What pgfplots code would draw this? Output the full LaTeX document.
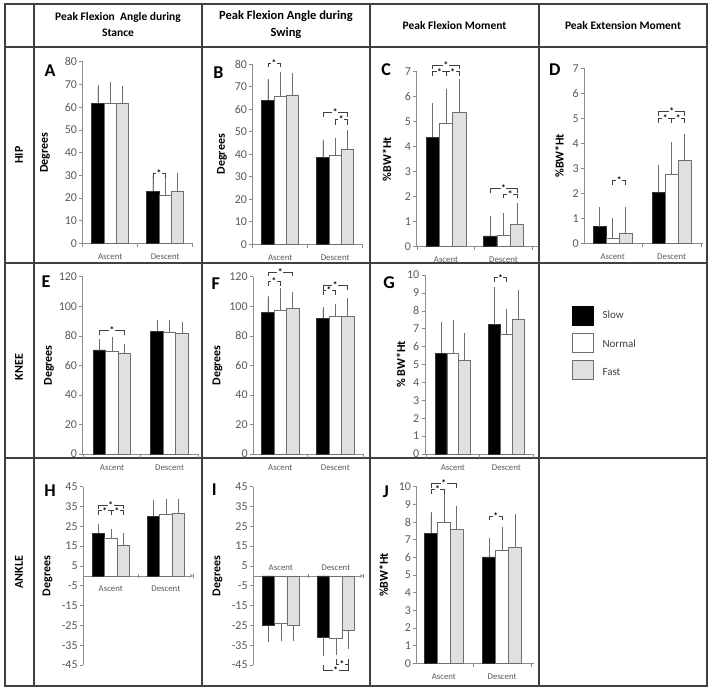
\documentclass[border=0pt]{standalone}
\usepackage{fontspec}
\setmainfont{Carlito}
\usepackage{pgfplots}
\pgfplotsset{compat=1.18}

\definecolor{axisgray}{HTML}{8C8C8C}
\definecolor{tickgray}{HTML}{595959}
\definecolor{bargray}{HTML}{6E6E6E}
\definecolor{fastgray}{HTML}{E0E0E0}
\definecolor{gridline}{HTML}{404040}

\pgfplotsset{
  panel/.style={
    scale only axis, anchor=south west, clip=false,
    axis y line=left, axis x line=bottom,
    axis line style={-, draw=axisgray, line width=0.6pt},
    tick style={draw=axisgray, line width=0.6pt},
    major tick length=3.5pt, tick align=outside,
    ybar=0pt,
    xtick={-0.5,0.5,1.5}, xticklabels={},
    yticklabel style={font=\fontsize{12}{13}\selectfont, text=tickgray, inner sep=2pt},
    /pgf/number format/assume math mode=true,
    every axis y label/.style={rotate=90, anchor=center, font=\bfseries\fontsize{12}{13}\selectfont},
    every axis plot/.append style={line width=0.6pt,
      error bars/y dir=plus, error bars/y explicit,
      error bars/error bar style={draw=bargray, line width=0.6pt},
      error bars/error mark options={draw=bargray, line width=0.6pt, mark size=2.2pt}},
  },
  slow/.style={fill=black, draw=black!80},
  norm/.style={fill=white, draw=bargray},
  fast/.style={fill=fastgray, draw=bargray},
  ylab/.style={ylabel style={at={([xshift=-#1pt]axis description cs:0,0.5)}}},
}
\tikzset{
  brk/.style={draw=gridline, line width=0.5pt},
  star/.style={font=\bfseries\fontsize{9.5}{9.5}\selectfont, fill=white, inner sep=0.5pt, text=black},
  cat/.style={font=\fontsize{8.8}{9}\selectfont, text=tickgray},
}
% significance bracket: x1, x2, y of bar, y of legs
\newcommand\brk[4]{%
  \draw[brk] (axis cs:#1,#4) -- (axis cs:#1,#3) -- (axis cs:#2,#3) -- (axis cs:#2,#4);
  \node[star] at (axis cs:{(#1+#2)/2},#3) {*};}
\newcommand\cats[1]{%
  \node[cat] at ([yshift=#1pt]axis cs:0,0) {Ascent};
  \node[cat] at ([yshift=#1pt]axis cs:1,0) {Descent};}

\begin{document}
\begin{tikzpicture}
\useasboundingbox (0pt,0pt) rectangle (714pt,-691pt);

% table frame
\begin{scope}[gridline, line width=1.3pt]
\draw (5pt,-4pt) rectangle (707pt,-686pt);
\foreach \x in {34,202,370,539} \draw (\x pt,-4pt) -- (\x pt,-686pt);
\foreach \y in {47,263,458} \draw (5pt,-\y pt) -- (707pt,-\y pt);
\end{scope}

% headers
\begin{scope}[font=\bfseries\fontsize{11.5}{16}\selectfont, align=center]
\node at (118pt,-25pt) {Peak Flexion\ \ Angle during\\Stance};
\node[font=\bfseries\fontsize{12.5}{17}\selectfont] at (286pt,-25pt) {Peak Flexion Angle during\\Swing};
\node at (454.5pt,-26pt) {Peak Flexion Moment};
\node at (623pt,-26pt) {Peak Extension Moment};
\end{scope}
\begin{scope}[font=\bfseries\fontsize{12}{14}\selectfont]
\node[rotate=90] at (19pt,-155pt) {HIP};
\node[rotate=90] at (19pt,-367pt) {KNEE};
\node[rotate=90] at (19pt,-572pt) {ANKLE};
\end{scope}

% panel letters
\begin{scope}[font=\bfseries\fontsize{18}{20}\selectfont]
\node at (50pt,-70.7pt) {A};
\node at (218.3pt,-72.5pt) {B};
\node at (386.2pt,-70pt) {C};
\node at (554.7pt,-69.2pt) {D};
\node at (46pt,-282pt) {E};
\node at (215.8pt,-284pt) {F};
\node at (389pt,-282.5pt) {G};
\node at (50pt,-490.8pt) {H};
\node at (214.3pt,-490pt) {I};
\node at (385.8pt,-491.7pt) {J};
\end{scope}

% legend
\draw[fill=black, draw=black] (571.7pt,-305.7pt) rectangle (593.3pt,-325pt);
\draw[fill=white, draw=bargray] (571.7pt,-332.7pt) rectangle (593.3pt,-351.7pt);
\draw[fill=fastgray, draw=bargray] (571.7pt,-360pt) rectangle (593.3pt,-379.3pt);
\begin{scope}[font=\fontsize{11}{13}\selectfont, text=gridline]
\node[anchor=west] at (599pt,-314.3pt) {Slow};
\node[anchor=west] at (599pt,-343.3pt) {Normal};
\node[anchor=west] at (599pt,-372.3pt) {Fast};
\end{scope}

% A
\begin{axis}[panel, at={(82.7pt,-243.3pt)}, width=110pt, height=181.6pt,
  xmin=-0.5, xmax=1.5, ymin=0, ymax=80, ytick={0,10,...,80},
  bar width=12.3pt, ylabel={Degrees}, ylab=37.7]
\addplot[slow] coordinates {(0,61.7) +- (0,7) (1,23) +- (0,6.8)};
\addplot[norm] coordinates {(0,61.7) +- (0,8.3) (1,21) +- (0,7.9)};
\addplot[fast] coordinates {(0,61.5) +- (0,7) (1,23) +- (0,7)};
\brk{0.776}{1}{30.8}{28.6}
\cats{-13.4}
\end{axis}

% B
\begin{axis}[panel, at={(252.7pt,-244.3pt)}, width=110pt, height=180.3pt,
  xmin=-0.5, xmax=1.5, ymin=0, ymax=80, ytick={0,10,...,80},
  bar width=12.3pt, ylabel={Degrees}, ylab=30.7]
\addplot[slow] coordinates {(0,64) +- (0,8.5) (1,38.5) +- (0,6.8)};
\addplot[norm] coordinates {(0,65.5) +- (0,10) (1,39.3) +- (0,7)};
\addplot[fast] coordinates {(0,66) +- (0,9) (1,42.3) +- (0,7.4)};
\brk{-0.224}{0}{80.5}{78.5}
\brk{0.776}{1.224}{58.8}{56.6}
\brk{1}{1.224}{55.4}{53}
\cats{-13.4}
\end{axis}

% C
\begin{axis}[panel, at={(416.7pt,-246.7pt)}, width=121.3pt, height=175pt,
  xmin=-0.51, xmax=1.6, ymin=0, ymax=7, ytick={0,1,...,7},
  bar width=13.3pt, ylabel={\%BW*Ht}, ylab=29.7]
\addplot[slow] coordinates {(0,4.37) +- (0,1.3) (1,0.43) +- (0,0.72)};
\addplot[norm] coordinates {(0,4.93) +- (0,1.3) (1,0.47) +- (0,0.8)};
\addplot[fast] coordinates {(0,5.37) +- (0,1.25) (1,0.88) +- (0,0.78)};
\brk{-0.231}{0.231}{7.27}{7.12}
\brk{-0.231}{0}{7.0}{6.84}
\brk{0}{0.231}{7.0}{6.84}
\brk{0.769}{1.231}{2.33}{2.15}
\brk{1}{1.231}{2.11}{1.93}
\cats{-13.4}
\end{axis}

% D
\begin{axis}[panel, at={(584.3pt,-243.3pt)}, width=118.6pt, height=175pt,
  xmin=-0.48, xmax=1.53, ymin=0, ymax=7, ytick={0,1,...,7},
  bar width=13pt, ylabel={\%BW*Ht}, ylab=25]
\addplot[slow] coordinates {(0,0.67) +- (0,0.7) (1,2.05) +- (0,0.98)};
\addplot[norm] coordinates {(0,0.22) +- (0,0.7) (1,2.77) +- (0,1.2)};
\addplot[fast] coordinates {(0,0.42) +- (0,0.95) (1,3.33) +- (0,0.97)};
\brk{0}{0.22}{2.53}{2.35}
\brk{0.78}{1.22}{5.27}{5.1}
\brk{0.78}{1}{5.0}{4.83}
\brk{1}{1.22}{5.0}{4.83}
\cats{-13.4}
\end{axis}

% E
\begin{axis}[panel, at={(82.7pt,-454pt)}, width=115.6pt, height=177.3pt,
  xmin=-0.51, xmax=1.5, ymin=0, ymax=120, ytick={0,20,...,120},
  bar width=12.5pt, ylabel={Degrees}, ylab=33.7]
\addplot[slow] coordinates {(0,70.5) +- (0,6) (1,83.2) +- (0,5.8)};
\addplot[norm] coordinates {(0,69.8) +- (0,8.2) (1,82.5) +- (0,6.5)};
\addplot[fast] coordinates {(0,68.3) +- (0,4.7) (1,81.8) +- (0,6.2)};
\brk{-0.217}{0.217}{83.9}{80.5}
\cats{-13.3}
\end{axis}

% F
\begin{axis}[panel, at={(253.3pt,-454pt)}, width=109.5pt, height=177.3pt,
  xmin=-0.49, xmax=1.5, ymin=0, ymax=120, ytick={0,20,...,120},
  bar width=12.4pt, ylabel={Degrees}, ylab=35.8]
\addplot[slow] coordinates {(0,96) +- (0,9.5) (1,92) +- (0,6)};
\addplot[norm] coordinates {(0,97) +- (0,14) (1,93.5) +- (0,6.5)};
\addplot[fast] coordinates {(0,98.5) +- (0,9.5) (1,93) +- (0,11)};
\brk{-0.225}{0.225}{123}{120.4}
\brk{-0.225}{0}{117}{114}
\brk{0.775}{1.225}{114.3}{111}
\brk{0.775}{1}{111}{107.6}
\cats{-13.3}
\end{axis}

% G
\begin{axis}[panel, at={(425pt,-454pt)}, width=108.1pt, height=179pt,
  xmin=-0.52, xmax=1.5, ymin=0, ymax=10, ytick={0,1,...,10},
  bar width=11.7pt, ylabel={\% BW*Ht}, ylab=24]
\addplot[slow] coordinates {(0,5.63) +- (0,1.64) (1,7.23) +- (0,1.95)};
\addplot[norm] coordinates {(0,5.63) +- (0,1.75) (1,6.7) +- (0,1.3)};
\addplot[fast] coordinates {(0,5.23) +- (0,1.39) (1,7.53) +- (0,1.49)};
\brk{0.781}{1}{9.85}{9.6}
\cats{-13.3}
\end{axis}

% H
\begin{axis}[panel, at={(83.3pt,-665pt)}, width=110pt, height=178.3pt,
  axis x line=middle, hide obscured x ticks=false,
  xmin=-0.5, xmax=1.5, ymin=-45, ymax=45, ytick={-45,-35,...,45},
  bar width=12.3pt, ylabel={Degrees}, ylab=35.8]
\addplot[slow] coordinates {(0,21.5) +- (0,3.6) (1,30.2) +- (0,6.9)};
\addplot[norm] coordinates {(0,18.9) +- (0,3.7) (1,31) +- (0,6.9)};
\addplot[fast] coordinates {(0,15.5) +- (0,4.8) (1,31.5) +- (0,6.4)};
\brk{-0.224}{0.224}{35.7}{33.5}
\brk{-0.224}{0}{32.9}{30.5}
\brk{0}{0.224}{32.9}{30.5}
\cats{-12.5}
\end{axis}

% I
\begin{axis}[panel, at={(253.3pt,-665pt)}, width=110pt, height=178.3pt,
  axis x line=middle, hide obscured x ticks=false,
  every axis plot/.append style={error bars/y dir=minus},
  xmin=-0.5, xmax=1.5, ymin=-45, ymax=45, ytick={-45,-35,...,45},
  bar width=12.3pt, ylabel={Degrees}, ylab=35.8]
\addplot[slow] coordinates {(0,-25.2) +- (0,7.2) (1,-31) +- (0,8.5)};
\addplot[norm] coordinates {(0,-24) +- (0,8) (1,-31.6) +- (0,7.2)};
\addplot[fast] coordinates {(0,-24.8) +- (0,7.2) (1,-27.4) +- (0,8.4)};
\brk{1}{1.224}{-44.5}{-42.2}
\brk{0.776}{1.224}{-47.5}{-45}
\cats{7.8}
\end{axis}

% J
\begin{axis}[panel, at={(416.7pt,-663.3pt)}, width=117.5pt, height=176.6pt,
  xmin=-0.465, xmax=1.55, ymin=0, ymax=10, ytick={0,1,...,10},
  bar width=12.9pt, ylabel={\%BW*Ht}, ylab=33]
\addplot[slow] coordinates {(0,7.37) +- (0,1.06) (1,6.03) +- (0,0.92)};
\addplot[norm] coordinates {(0,7.97) +- (0,1.5) (1,6.4) +- (0,1.17)};
\addplot[fast] coordinates {(0,7.57) +- (0,1.2) (1,6.57) +- (0,1.75)};
\brk{-0.221}{0.221}{10.19}{9.95}
\brk{-0.221}{0}{9.85}{9.6}
\brk{0.779}{1}{8.34}{8.1}
\cats{-13.4}
\end{axis}
\end{tikzpicture}
\end{document}
